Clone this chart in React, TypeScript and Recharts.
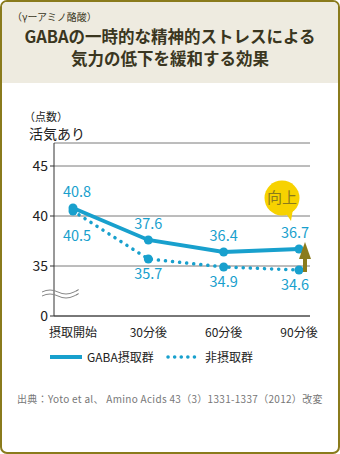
import { LineChart, Line, XAxis, YAxis, CartesianGrid, LabelList, ReferenceDot } from "recharts"

const categories = ["摂取開始", "30分後", "60分後", "90分後"]
const gabaValues = [40.8, 37.6, 36.4, 36.7]
const controlValues = [40.5, 35.7, 34.9, 34.6]
// 30 stands in for the broken axis bottom, printed as "0"
const yTicks = [30, 35, 40, 45]
const yTickLabels = ["0", "35", "40", "45"]

const seriesNames = ["GABA摂取群", "非摂取群"]

const data = categories.map((name, i) => ({
  name,
  gaba: gabaValues[i],
  control: controlValues[i],
}))

const BLUE = "#18a0cd"
const OLIVE = "#8a7b1c"
const FONT = '"Noto Sans CJK JP", "Noto Sans", sans-serif'

const labelShift = (index: number) => (index === 0 ? 4 : index === categories.length - 1 ? -4 : 0)

const TopLabel = (props: any) => {
  const { x, y, value, index } = props
  return (
    <text x={x + labelShift(index)} y={y - 11} textAnchor="middle" fontSize={14.5} fill={BLUE} fontFamily={FONT}>
      {value}
    </text>
  )
}

const BottomLabel = (props: any) => {
  const { x, y, value, index } = props
  return (
    <text
      x={x + labelShift(index)}
      y={y + (index === 0 ? 30 : 20)}
      textAnchor="middle"
      fontSize={14.5}
      fill={BLUE}
      fontFamily={FONT}
    >
      {value}
    </text>
  )
}

const Bubble = (props: any) => {
  const { cx, cy } = props
  const bx = cx - 17
  return (
    <g>
      <circle cx={bx} cy={cy} r={17.5} fill="#f7d200" />
      <path d={`M${bx + 3},${cy + 14} L${bx + 9},${cy + 23} L${bx + 11},${cy + 11} Z`} fill="#f7d200" />
      <text x={bx} y={cy + 5} textAnchor="middle" fontSize={15} fill={OLIVE} fontFamily={FONT}>
        向上
      </text>
    </g>
  )
}

const UpArrow = (props: any) => {
  const { cx, cy } = props
  const ax = cx + 6
  return (
    <g>
      <rect x={ax - 2} y={cy - 16} width={4} height={16} fill={OLIVE} />
      <path d={`M${ax},${cy - 30} L${ax + 6},${cy - 13} L${ax - 6},${cy - 13} Z`} fill={OLIVE} />
    </g>
  )
}

const AxisBreak = (props: any) => {
  const { cx, cy } = props
  const x0 = cx - 31
  const wave = (y: number) => `M${x0},${y} q8,-4 16,0 t16,0 t2,-1`
  return (
    <g fill="none" stroke="#888" strokeWidth={1}>
      <path d={wave(cy - 2)} />
      <path d={wave(cy + 2)} />
    </g>
  )
}

export default function App() {
  return (
    <div style={{ position: "relative", width: 340, height: 454, background: "#fff", fontFamily: FONT }}>
      <style>{`body{margin:0}`}</style>
      <div
        style={{
          position: "absolute",
          left: 0,
          top: 0,
          width: 340,
          height: 454,
          boxSizing: "border-box",
          border: `2px solid ${OLIVE}`,
          borderRadius: 7,
          overflow: "hidden",
        }}
      >
        <div style={{ height: 81, background: "#eeebe0" }} />
      </div>

      <div style={{ position: "absolute", left: 0, top: 0 }}>
        <LineChart width={340} height={360} data={data} margin={{ top: 143, right: 30, bottom: 14, left: 0 }}>
          <CartesianGrid vertical={false} stroke="#7a7a7a" />
          <XAxis
            dataKey="name"
            padding={{ left: 19, right: 11 }}
            height={30}
            axisLine={{ stroke: "#333" }}
            tickLine={false}
            tickMargin={6}
            tick={{ fontSize: 12, fill: "#222", fontFamily: FONT }}
          />
          <YAxis
            width={54}
            domain={[30, 47.3]}
            ticks={yTicks}
            tickFormatter={(v: number) => yTickLabels[yTicks.indexOf(v)]}
            axisLine={{ stroke: "#333" }}
            tickLine={{ stroke: "#333" }}
            tickSize={4}
            tick={{ fontSize: 14, fill: "#222", fontFamily: FONT }}
          />
          <Line
            dataKey="control"
            name={seriesNames[1]}
            stroke={BLUE}
            strokeWidth={3.5}
            strokeDasharray="0.1 7"
            strokeLinecap="round"
            dot={{ r: 4.5, fill: BLUE, stroke: BLUE, strokeWidth: 0 }}
            isAnimationActive={false}
          >
            <LabelList dataKey="control" content={BottomLabel} />
          </Line>
          <Line
            dataKey="gaba"
            name={seriesNames[0]}
            stroke={BLUE}
            strokeWidth={3.8}
            dot={{ r: 4.5, fill: BLUE, stroke: BLUE, strokeWidth: 0 }}
            isAnimationActive={false}
          >
            <LabelList dataKey="gaba" content={TopLabel} />
          </Line>
          <ReferenceDot x={categories[3]} y={41.8} ifOverflow="visible" shape={Bubble} />
          <ReferenceDot x={categories[3]} y={34.4} ifOverflow="visible" shape={UpArrow} />
          <ReferenceDot x={categories[0]} y={32.2} ifOverflow="visible" shape={AxisBreak} />
        </LineChart>
      </div>

      <svg width={340} height={454} style={{ position: "absolute", left: 0, top: 0, pointerEvents: "none" }}>
        <g fontFamily={FONT}>
          <text x={12} y={21} fontSize={10} fill="#3a3620">
            （γーアミノ酪酸）
          </text>
          <text x={170} y={42.5} textAnchor="middle" fontSize={16.5} fontWeight={700} fill="#3a3620">
            GABAの一時的な精神的ストレスによる
          </text>
          <text x={170} y={65} textAnchor="middle" fontSize={16.5} fontWeight={700} fill="#3a3620">
            気力の低下を緩和する効果
          </text>
          <text x={24} y={121} fontSize={11} fill="#222">
            （点数）
          </text>
          <text x={29} y={139} fontSize={14} fill="#222">
            活気あり
          </text>

          <line x1={50} y1={357} x2={82} y2={357} stroke={BLUE} strokeWidth={4} />
          <text x={87} y={361.5} fontSize={12} fill="#222">
            {seriesNames[0]}
          </text>
          <line x1={168} y1={357} x2={200} y2={357} stroke={BLUE} strokeWidth={3.5} strokeDasharray="0.1 6.5" strokeLinecap="round" />
          <text x={205} y={361.5} fontSize={12} fill="#222">
            {seriesNames[1]}
          </text>

          <text x={17} y={402.5} fontSize={10} letterSpacing={0.3} fill="#777">
            出典：Yoto et al、 Amino Acids 43（3）1331-1337（2012）改変
          </text>
        </g>
      </svg>
    </div>
  )
}
